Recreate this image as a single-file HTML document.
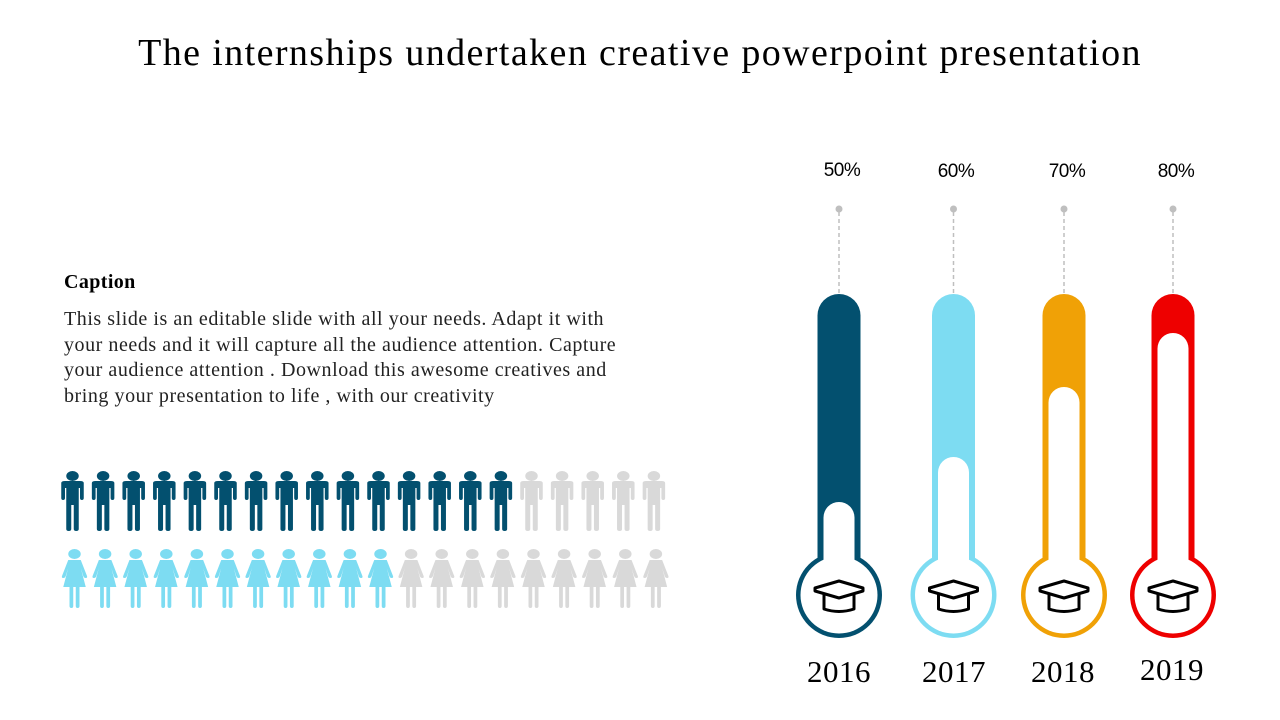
<!DOCTYPE html>
<html><head><meta charset="utf-8"><style>
body{margin:0;width:1280px;height:720px;background:#fff;overflow:hidden;font-family:"Liberation Serif",serif;position:relative}
.t{position:absolute;left:0;width:1280px;top:31px;text-align:center;font-size:38px;letter-spacing:1.4px;color:#000;white-space:nowrap}
.cap{position:absolute;left:64px;top:271px;font-weight:bold;font-size:20px;letter-spacing:0.4px}
.body{position:absolute;left:64px;top:307px;font-size:20px;letter-spacing:0.55px;line-height:25.5px;color:#222;white-space:nowrap}
</style></head><body>
<div class="t">The internships undertaken creative powerpoint presentation</div>
<div class="cap">Caption</div>
<div class="body">This slide is an editable slide with all your needs. Adapt it with<br>your needs and it will capture all the audience attention. Capture<br>your audience attention . Download this awesome creatives and<br>bring your presentation to life , with our creativity</div>
<svg width="1280" height="720" style="position:absolute;left:0;top:0">
<defs>
<g id="man" transform="scale(1.25,1)"><circle cx="12" cy="6" r="5"/><path d="M3 13 Q3 11 6 11 H18 Q21 11 21 13 V28 Q21 30 19.5 30 Q18 30 18 28 V18 H17 V59 Q17 61 15 61 Q13 61 13 59 V35 H11 V59 Q11 61 9 61 Q7 61 7 59 V18 H6 V28 Q6 30 4.5 30 Q3 30 3 28Z"/></g>
<g id="wom" transform="scale(1.25,1)"><circle cx="12" cy="6" r="5"/><path d="M7 12 H17 L22 28 Q22.5 30 21 30 Q19.5 30 19 28 L17 20 L21 39 H16 V58 Q16 60 14.5 60 Q13 60 13 58 V39 H11 V58 Q11 60 9.5 60 Q8 60 8 58 V39 H3 L7 20 L5 28 Q4.5 30 3 30 Q1.5 30 2 28Z"/></g>
<g id="hat" fill="none" stroke="#000" stroke-width="3" stroke-linejoin="round"><path d="M-24 -7 L0 -14 L24 -7 L24 -4 L0 3 L-24 -4Z"/><path d="M-15 -1 V14 Q0 19 15 14 V-1"/></g>
</defs>
<g fill="#03506f">
<use href="#man" x="57.5" y="470"/><use href="#man" x="88.1" y="470"/><use href="#man" x="118.7" y="470"/><use href="#man" x="149.3" y="470"/><use href="#man" x="179.9" y="470"/><use href="#man" x="210.5" y="470"/><use href="#man" x="241.1" y="470"/><use href="#man" x="271.7" y="470"/><use href="#man" x="302.3" y="470"/><use href="#man" x="332.9" y="470"/><use href="#man" x="363.5" y="470"/><use href="#man" x="394.1" y="470"/><use href="#man" x="424.7" y="470"/><use href="#man" x="455.3" y="470"/><use href="#man" x="485.9" y="470"/>
</g>
<g fill="#d9d9d9">
<use href="#man" x="516.5" y="470"/><use href="#man" x="547.1" y="470"/><use href="#man" x="577.7" y="470"/><use href="#man" x="608.3" y="470"/><use href="#man" x="638.9" y="470"/>
</g>
<g fill="#7ddcf2">
<use href="#wom" x="59.5" y="548"/><use href="#wom" x="90.1" y="548"/><use href="#wom" x="120.7" y="548"/><use href="#wom" x="151.3" y="548"/><use href="#wom" x="181.9" y="548"/><use href="#wom" x="212.5" y="548"/><use href="#wom" x="243.1" y="548"/><use href="#wom" x="273.7" y="548"/><use href="#wom" x="304.3" y="548"/><use href="#wom" x="334.9" y="548"/><use href="#wom" x="365.5" y="548"/>
</g>
<g fill="#d9d9d9">
<use href="#wom" x="396.1" y="548"/><use href="#wom" x="426.7" y="548"/><use href="#wom" x="457.3" y="548"/><use href="#wom" x="487.9" y="548"/><use href="#wom" x="518.5" y="548"/><use href="#wom" x="549.1" y="548"/><use href="#wom" x="579.7" y="548"/><use href="#wom" x="610.3" y="548"/><use href="#wom" x="640.9" y="548"/>
</g>

<g font-family="Liberation Sans,sans-serif" font-size="19" text-anchor="middle" letter-spacing="-0.5">
<text x="842" y="176">50%</text><text x="956" y="177">60%</text><text x="1067" y="177">70%</text><text x="1176" y="177">80%</text>
</g>
<g font-size="31" text-anchor="middle" letter-spacing="0.5">
<text x="839" y="682">2016</text><text x="954" y="682">2017</text><text x="1063" y="682">2018</text><text x="1172" y="680">2019</text>
</g>
<g fill="#bfbfbf"><circle cx="839" cy="209" r="3.5"/><circle cx="953.5" cy="209" r="3.5"/><circle cx="1064" cy="209" r="3.5"/><circle cx="1173" cy="209" r="3.5"/></g>
<g stroke="#bfbfbf" stroke-width="1.5" stroke-dasharray="4 3">
<line x1="839" y1="212" x2="839" y2="294"/><line x1="953.5" y1="212" x2="953.5" y2="294"/><line x1="1064" y1="212" x2="1064" y2="294"/><line x1="1173" y1="212" x2="1173" y2="294"/>
</g>

<g fill="#03506f"><rect x="817.5" y="294" width="43" height="290" rx="21.5"/><circle cx="839" cy="595" r="43"/></g>
<circle cx="839" cy="595" r="38.5" fill="#fff"/><rect x="823.5" y="502" width="31" height="98" rx="15.5" fill="#fff"/>
<use href="#hat" x="839" y="595"/>

<g fill="#7ddcf2"><rect x="932" y="294" width="43" height="290" rx="21.5"/><circle cx="953.5" cy="595" r="43"/></g>
<circle cx="953.5" cy="595" r="38.5" fill="#fff"/><rect x="938" y="457" width="31" height="143" rx="15.5" fill="#fff"/>
<use href="#hat" x="953.5" y="595"/>

<g fill="#f0a106"><rect x="1042.5" y="294" width="43" height="290" rx="21.5"/><circle cx="1064" cy="595" r="43"/></g>
<circle cx="1064" cy="595" r="38.5" fill="#fff"/><rect x="1048.5" y="387" width="31" height="213" rx="15.5" fill="#fff"/>
<use href="#hat" x="1064" y="595"/>

<g fill="#ee0000"><rect x="1151.5" y="294" width="43" height="290" rx="21.5"/><circle cx="1173" cy="595" r="43"/></g>
<circle cx="1173" cy="595" r="38.5" fill="#fff"/><rect x="1157.5" y="333" width="31" height="267" rx="15.5" fill="#fff"/>
<use href="#hat" x="1173" y="595"/>
</svg>
</body></html>
